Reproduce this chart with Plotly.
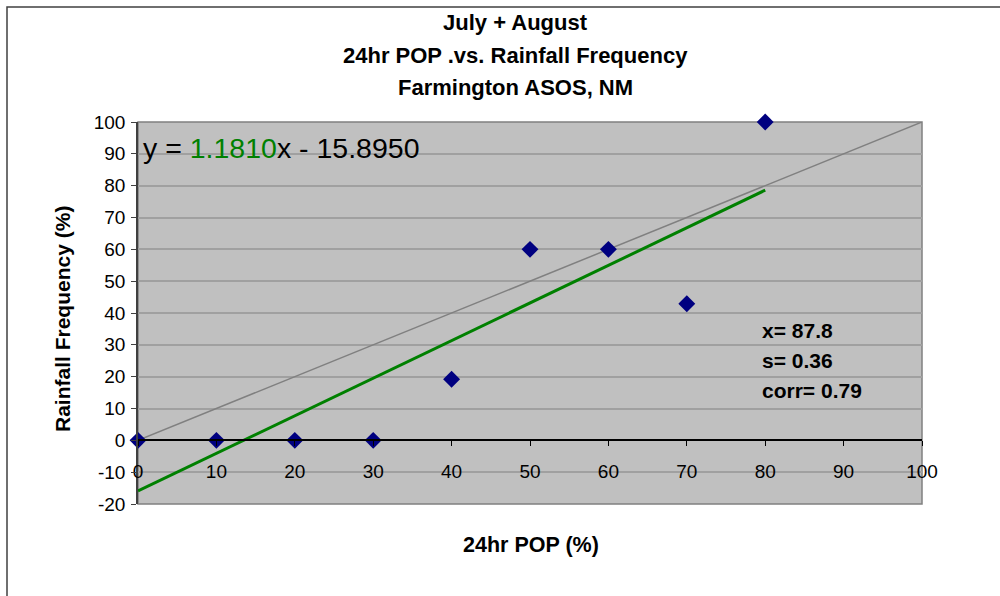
import plotly.graph_objects as go

# data
pop = [0, 10, 20, 30, 40, 50, 60, 70, 80]
rain_freq = [0, 0, 0, 0, 19.2, 60, 60, 42.9, 100]

slope = 1.1810
intercept = -15.8950
fit_x = [0, 80]
fit_y = [slope * v + intercept for v in fit_x]

ref_x = [0, 100]
ref_y = [0, 100]

x_ticks = list(range(0, 101, 10))
y_ticks = list(range(-20, 101, 10))
y_tick_text = [str(v) for v in y_ticks]  # plain hyphen minus like Excel

title_lines = ["July + August", "24hr POP .vs. Rainfall Frequency", "Farmington ASOS, NM"]
stats_lines = ["x= 87.8", "s= 0.36", "corr= 0.79"]

W, H = 1000, 596
L, R, T, B = 138, 78, 122, 92
ph = H - T - B
pw = W - L - R


def px_x(x):
    return (x - L) / pw


def px_y(y):
    return (H - B - y) / ph


FONT = "Liberation Sans, Arial, sans-serif"

fig = go.Figure()

fig.add_trace(go.Scatter(x=ref_x, y=ref_y, mode='lines',
                         line=dict(color='#808080', width=1.5), hoverinfo='skip'))
fig.add_trace(go.Scatter(x=fit_x, y=fit_y, mode='lines',
                         line=dict(color='#008000', width=3), hoverinfo='skip'))
fig.add_trace(go.Scatter(x=pop, y=rain_freq, mode='markers',
                         marker=dict(symbol='diamond', size=13, color='#000080'),
                         cliponaxis=False))

annotations = []
for txt, yp in zip(title_lines, [22, 55, 87]):
    annotations.append(dict(text=f"<b>{txt}</b>", xref='paper', yref='paper',
                            x=px_x(515), y=px_y(yp), xanchor='center', yanchor='middle',
                            showarrow=False, font=dict(size=22, color='black')))
for txt, yp in zip(stats_lines, [330, 360, 390]):
    annotations.append(dict(text=f"<b>{txt}</b>", xref='paper', yref='paper',
                            x=px_x(760), y=px_y(yp), xanchor='left', yanchor='middle',
                            showarrow=False, font=dict(size=21, color='black')))
annotations.append(dict(
    text=f"y = <span style='color:#008000'>{slope:.4f}</span>x - {abs(intercept):.4f}",
    xref='paper', yref='paper', x=px_x(141), y=px_y(148), xanchor='left', yanchor='middle',
    showarrow=False, font=dict(size=28.5, color='black')))
annotations.append(dict(text="<b>Rainfall Frequency (%)</b>", xref='paper', yref='paper',
                        x=px_x(62), y=px_y(319), xanchor='center', yanchor='middle',
                        textangle=-90, showarrow=False, font=dict(size=21, color='black')))
annotations.append(dict(text="<b>24hr POP (%)</b>", xref='paper', yref='paper',
                        x=px_x(531), y=px_y(545), xanchor='center', yanchor='middle',
                        showarrow=False, font=dict(size=21.5, color='black')))

shapes = [
    # plot area frame
    dict(type='rect', xref='paper', yref='paper', x0=0, x1=1, y0=0, y1=1,
         line=dict(color='#808080', width=1.5), layer='below'),
    # outer chart frame
    dict(type='rect', xref='paper', yref='paper', x0=px_x(7), x1=px_x(1010),
         y0=px_y(610), y1=px_y(7), line=dict(color='#404040', width=1.5)),
]

fig.update_layout(
    width=W, height=H,
    margin=dict(l=L, r=R, t=T, b=B),
    paper_bgcolor='white', plot_bgcolor='#C0C0C0',
    showlegend=False,
    font=dict(family=FONT, size=19, color='black'),
    annotations=annotations, shapes=shapes,
    xaxis=dict(range=[0, 100], tickvals=x_ticks, showgrid=False,
               zeroline=False, showline=True, linecolor='black', linewidth=1.5,
               ticks='outside', ticklen=5, tickcolor='black', ticklabelstandoff=9,
               anchor='free', position=20 / 120),
    yaxis=dict(range=[-20, 100], tickvals=y_ticks, ticktext=y_tick_text,
               showgrid=True, gridcolor='#A0A0A0', gridwidth=1.5, zeroline=False,
               showline=True, linecolor='#404040', linewidth=1.5,
               ticks='outside', ticklen=5, tickcolor='#404040', ticklabelstandoff=2),
)

# the page's default body margin would shift the chart by 8px
fig.write_html("out.html", config={'displayModeBar': False},
               post_script="document.body.style.margin='0';")
